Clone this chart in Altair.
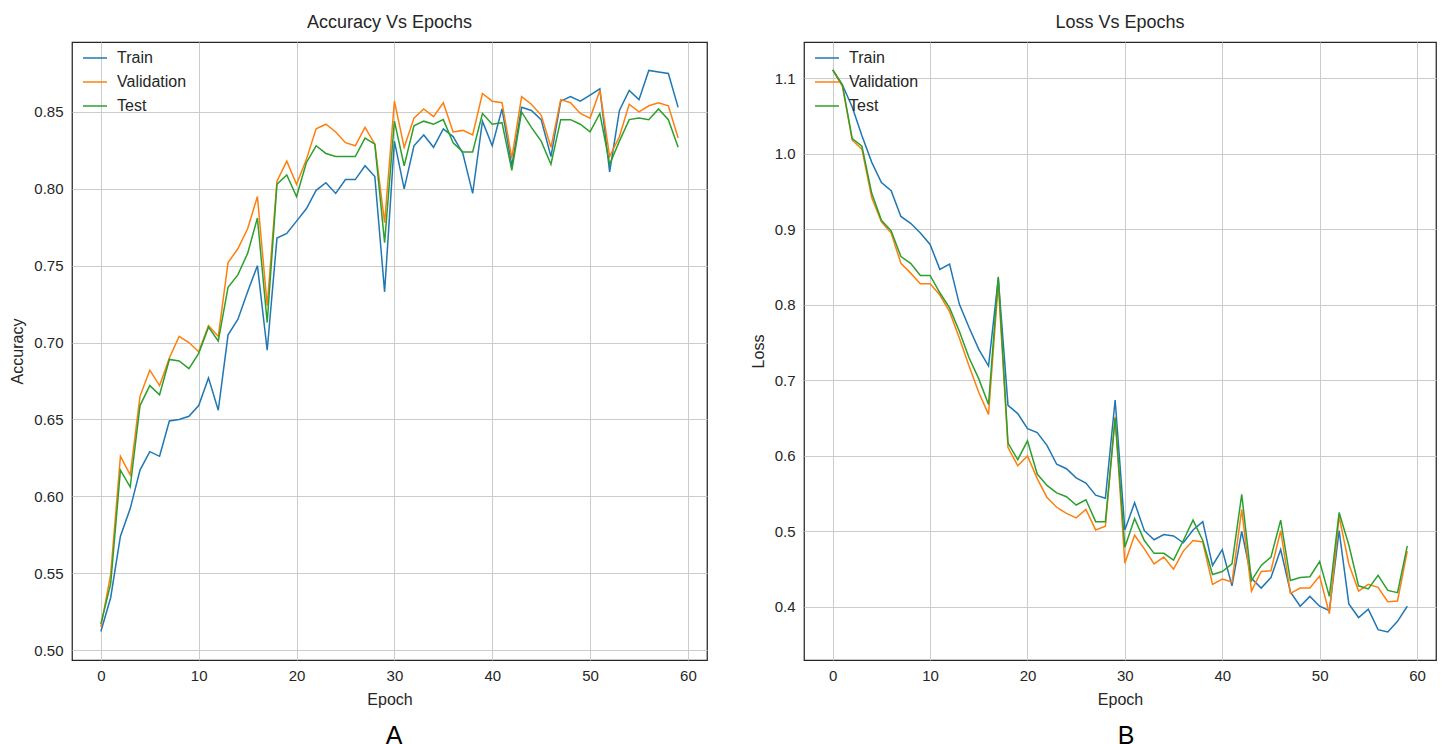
import altair as alt
import pandas as pd

epochs = list(range(60))

acc_train = [0.512, 0.534, 0.574, 0.592, 0.617, 0.629, 0.626, 0.649, 0.650, 0.652,
             0.659, 0.677, 0.656, 0.705, 0.715, 0.733, 0.750, 0.695, 0.768, 0.771,
             0.779, 0.787, 0.799, 0.804, 0.797, 0.806, 0.806, 0.815, 0.808, 0.733,
             0.831, 0.800, 0.828, 0.835, 0.827, 0.839, 0.834, 0.823, 0.797, 0.844,
             0.828, 0.852, 0.815, 0.853, 0.851, 0.845, 0.821, 0.857, 0.860, 0.857,
             0.861, 0.865, 0.811, 0.851, 0.864, 0.858, 0.877, 0.876, 0.875, 0.853]
acc_val = [0.515, 0.549, 0.626, 0.614, 0.665, 0.682, 0.672, 0.690, 0.704, 0.700,
           0.694, 0.711, 0.704, 0.752, 0.761, 0.774, 0.795, 0.724, 0.805, 0.818,
           0.803, 0.819, 0.839, 0.842, 0.837, 0.830, 0.828, 0.840, 0.829, 0.778,
           0.857, 0.827, 0.846, 0.852, 0.847, 0.856, 0.837, 0.838, 0.835, 0.862,
           0.857, 0.856, 0.820, 0.860, 0.855, 0.848, 0.827, 0.858, 0.856, 0.849,
           0.846, 0.864, 0.821, 0.834, 0.855, 0.850, 0.854, 0.856, 0.854, 0.833]
acc_test = [0.517, 0.543, 0.617, 0.606, 0.659, 0.672, 0.666, 0.689, 0.688, 0.683,
            0.693, 0.710, 0.701, 0.736, 0.744, 0.758, 0.781, 0.713, 0.803, 0.809,
            0.795, 0.817, 0.828, 0.823, 0.821, 0.821, 0.821, 0.833, 0.829, 0.765,
            0.844, 0.815, 0.841, 0.844, 0.842, 0.845, 0.830, 0.824, 0.824, 0.849,
            0.842, 0.843, 0.812, 0.850, 0.840, 0.831, 0.816, 0.845, 0.845, 0.842,
            0.837, 0.849, 0.816, 0.831, 0.845, 0.846, 0.845, 0.852, 0.845, 0.827]

loss_train = [1.111, 1.091, 1.062, 1.024, 0.989, 0.962, 0.951, 0.917, 0.908, 0.895,
              0.880, 0.847, 0.854, 0.801, 0.770, 0.741, 0.719, 0.835, 0.667, 0.656,
              0.636, 0.631, 0.614, 0.589, 0.583, 0.571, 0.564, 0.548, 0.544, 0.674,
              0.502, 0.538, 0.501, 0.489, 0.496, 0.494, 0.485, 0.502, 0.513, 0.455,
              0.476, 0.428, 0.500, 0.438, 0.425, 0.439, 0.476, 0.420, 0.401, 0.414,
              0.401, 0.395, 0.501, 0.404, 0.386, 0.397, 0.370, 0.367, 0.381, 0.401]
loss_val = [1.111, 1.089, 1.018, 1.006, 0.942, 0.910, 0.895, 0.855, 0.842, 0.828,
            0.828, 0.813, 0.791, 0.756, 0.719, 0.684, 0.655, 0.828, 0.611, 0.587,
            0.600, 0.570, 0.545, 0.532, 0.524, 0.518, 0.529, 0.502, 0.507, 0.652,
            0.458, 0.495, 0.477, 0.457, 0.466, 0.450, 0.474, 0.488, 0.486, 0.430,
            0.437, 0.433, 0.529, 0.421, 0.447, 0.448, 0.501, 0.418, 0.425, 0.425,
            0.441, 0.391, 0.520, 0.457, 0.421, 0.430, 0.426, 0.407, 0.408, 0.474]
loss_test = [1.111, 1.091, 1.020, 1.010, 0.948, 0.912, 0.898, 0.864, 0.855, 0.839,
             0.839, 0.816, 0.796, 0.765, 0.730, 0.702, 0.668, 0.837, 0.617, 0.595,
             0.620, 0.576, 0.561, 0.551, 0.546, 0.535, 0.542, 0.513, 0.513, 0.650,
             0.479, 0.517, 0.488, 0.471, 0.471, 0.462, 0.488, 0.515, 0.488, 0.443,
             0.447, 0.457, 0.549, 0.435, 0.455, 0.466, 0.515, 0.435, 0.439, 0.440,
             0.460, 0.414, 0.525, 0.482, 0.428, 0.424, 0.442, 0.422, 0.419, 0.481]

series = ["Train", "Validation", "Test"]
colors = ["#1f77b4", "#ff7f0e", "#2ca02c"]
x_ticks = [0, 10, 20, 30, 40, 50, 60]
acc_ticks = [0.50, 0.55, 0.60, 0.65, 0.70, 0.75, 0.80, 0.85]
loss_ticks = [0.4, 0.5, 0.6, 0.7, 0.8, 0.9, 1.0, 1.1]

FONT = "Liberation Sans"
TXT = "#262626"


def long_df(tr, va, te, name):
    rows = []
    for s, vals in zip(series, [tr, va, te]):
        for e, v in zip(epochs, vals):
            rows.append({"Epoch": e, name: v, "Series": s})
    return pd.DataFrame(rows)


def panel(df, name, ydomain, yticks, yfmt, title, letter, width):
    color = alt.Color(
        "Series:N",
        scale=alt.Scale(domain=series, range=colors),
        sort=series,
        legend=alt.Legend(
            title=None, orient="none", legendX=10, legendY=3,
            symbolType="stroke", symbolSize=576, symbolStrokeWidth=1.5,
            labelFontSize=16, labelFont=FONT, labelColor=TXT,
            labelOffset=9, rowPadding=3, padding=0,
        ),
    )
    lines = alt.Chart(df).mark_line(strokeWidth=1.5).encode(
        x=alt.X("Epoch:Q",
                scale=alt.Scale(domain=[-2.95, 61.95], nice=False, zero=False),
                axis=alt.Axis(values=x_ticks, format="d", title="Epoch")),
        y=alt.Y(f"{name}:Q",
                scale=alt.Scale(domain=ydomain, nice=False, zero=False),
                axis=alt.Axis(values=yticks, format=yfmt, title=name)),
        color=color,
        detail="Series:N",
    )
    lab = alt.Chart(pd.DataFrame({"t": [letter]})).mark_text(
        fontSize=25, font=FONT, color="#000000", baseline="alphabetic", align="center"
    ).encode(text="t:N", x=alt.value(322), y=alt.value(702))
    return alt.layer(lines, lab).properties(
        width=width, height=618,
        title=alt.TitleParams(title, fontSize=18, fontWeight="normal", font=FONT,
                              color=TXT, offset=10),
    )


left = panel(long_df(acc_train, acc_val, acc_test, "Accuracy"), "Accuracy",
             [0.4935, 0.8955], acc_ticks, ".2f", "Accuracy Vs Epochs", "A", 635)
right = panel(long_df(loss_train, loss_val, loss_test, "Loss"), "Loss",
              [0.3298, 1.148], loss_ticks, ".1f", "Loss Vs Epochs", "B", 632)

chart = alt.hconcat(left, right, spacing=41).resolve_scale(
    color="independent"
).resolve_legend(color="independent").properties(
    padding={"left": 1, "top": 5, "right": 0, "bottom": 0}
).configure_view(
    stroke=TXT, strokeWidth=1.25
).configure_axis(
    grid=True, gridColor="#cccccc", gridWidth=1, domain=False, ticks=False,
    labelFont=FONT, labelFontSize=15, labelColor=TXT, labelPadding=8,
    titleFont=FONT, titleFontSize=16, titleFontWeight="normal", titleColor=TXT,
    titlePadding=8,
).configure_axisY(labelPadding=9)

chart.save("out.html", embed_options={"renderer": "svg", "actions": False})
